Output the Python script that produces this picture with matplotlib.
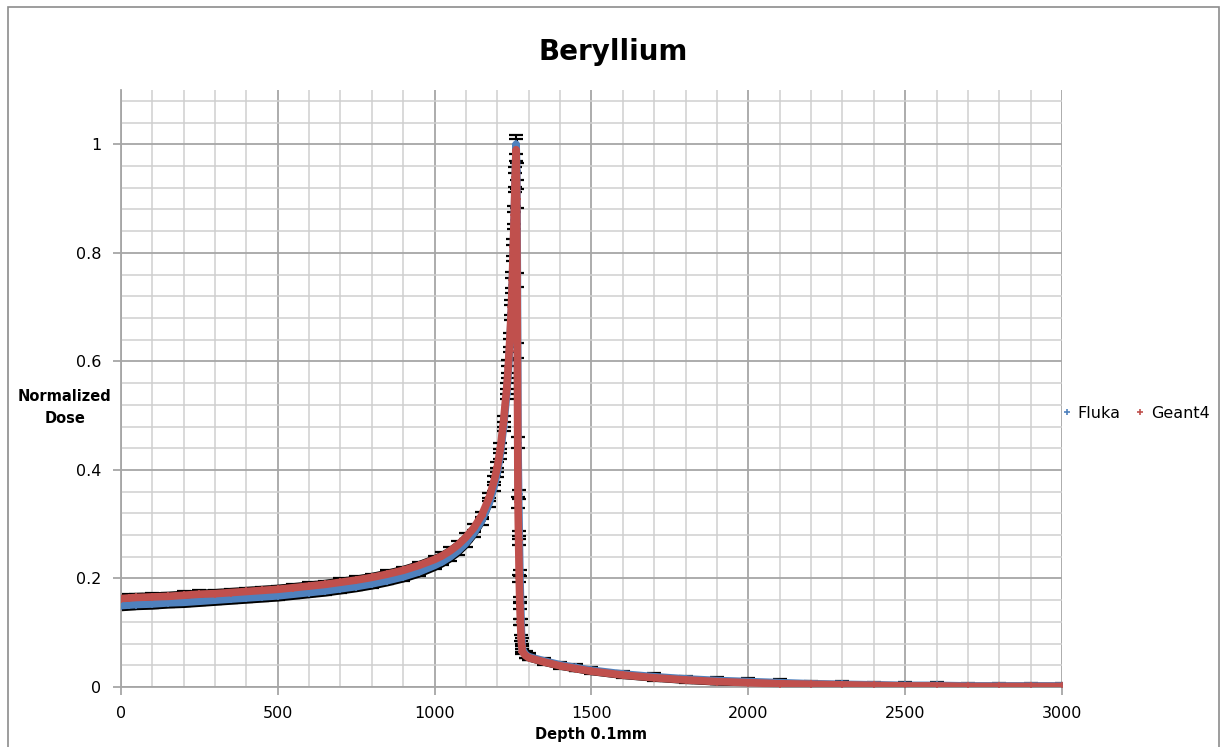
import numpy as np
import matplotlib.pyplot as plt
from matplotlib.patches import Rectangle
from matplotlib.ticker import MultipleLocator

# =========================
# DATA
# =========================
depth = [0, 25, 50, 100, 150, 200, 250, 300, 350, 400, 450, 500, 550, 600,
         650, 700, 750, 800, 850, 900, 950, 1000, 1025, 1050, 1075, 1100,
         1125, 1150, 1175, 1190, 1200, 1210, 1220, 1230, 1235, 1240, 1245,
         1248, 1251, 1254, 1257, 1260, 1262, 1264, 1266, 1268, 1270, 1272,
         1274, 1276, 1278, 1280, 1290, 1300, 1350, 1400, 1450, 1500, 1600,
         1700, 1800, 1900, 2000, 2100, 2200, 2300, 2400, 2500, 2600, 2700,
         2800, 2900, 3000]

geant4 = [0.163, 0.164, 0.165, 0.166, 0.167, 0.169, 0.171, 0.172, 0.174,
          0.176, 0.178, 0.180, 0.183, 0.186, 0.189, 0.193, 0.197, 0.202,
          0.208, 0.215, 0.224, 0.235, 0.242, 0.251, 0.262, 0.276, 0.293,
          0.316, 0.350, 0.380, 0.405, 0.440, 0.490, 0.550, 0.590, 0.640,
          0.700, 0.750, 0.810, 0.870, 0.940, 0.990, 0.900, 0.620, 0.340,
          0.270, 0.200, 0.150, 0.120, 0.090, 0.075, 0.065, 0.058, 0.054,
          0.046, 0.039, 0.034, 0.029, 0.022, 0.017, 0.013, 0.010, 0.008,
          0.006, 0.005, 0.004, 0.003, 0.002, 0.002, 0.001, 0.001, 0.001,
          0.001]

fluka = [0.150, 0.151, 0.152, 0.153, 0.155, 0.156, 0.158, 0.160, 0.162,
         0.164, 0.166, 0.168, 0.171, 0.174, 0.177, 0.181, 0.185, 0.190,
         0.196, 0.203, 0.212, 0.224, 0.231, 0.240, 0.251, 0.265, 0.283,
         0.306, 0.340, 0.370, 0.395, 0.430, 0.480, 0.540, 0.580, 0.630,
         0.690, 0.740, 0.800, 0.860, 0.930, 1.000, 0.950, 0.750, 0.450,
         0.355, 0.280, 0.210, 0.160, 0.120, 0.085, 0.070, 0.060, 0.056,
         0.048, 0.041, 0.036, 0.031, 0.024, 0.019, 0.015, 0.012, 0.010,
         0.008, 0.006, 0.005, 0.004, 0.003, 0.003, 0.002, 0.002, 0.002,
         0.002]

# rough error bar sizes (black caps)
g4_err = [0.007] * 28 + [0.008, 0.008, 0.009, 0.009, 0.010, 0.011, 0.012,
          0.013, 0.014, 0.015, 0.016, 0.017, 0.018, 0.020, 0.018, 0.014,
          0.010, 0.008, 0.007, 0.006, 0.005, 0.005, 0.005, 0.005] + [0.005] * 21
fl_err = [0.007] * 28 + [0.008, 0.008, 0.008, 0.009, 0.009, 0.010, 0.011,
          0.012, 0.013, 0.014, 0.015, 0.016, 0.017, 0.018, 0.016, 0.013,
          0.010, 0.008, 0.007, 0.006, 0.005, 0.005, 0.006, 0.006] + [0.006] * 21

BLUE = '#4f81bd'
RED = '#c0504d'

# =========================
# FIGURE
# =========================
fig = plt.figure(figsize=(12.2, 7.47), dpi=100)
ax = fig.add_axes([0.099, 0.0803, 0.7715, 0.7992])

# outer chart frame
fig.patches.append(Rectangle((0.0066, -0.01), 0.9926, 1.0006,
                             transform=fig.transFigure, fill=False,
                             edgecolor='#8c8c8c', lw=1.2))

# black error band + bars
lo = np.array(fluka) - np.array(fl_err)
hi = np.array(geant4) + np.array(g4_err)
ax.fill_between(depth, np.minimum(lo, hi), np.maximum(lo, hi),
                color='black', lw=2, edgecolor='black', zorder=2)
ax.errorbar(depth, fluka, yerr=fl_err, fmt='none', ecolor='black',
            elinewidth=1.5, capsize=5, capthick=1.6, zorder=2)
ax.errorbar(depth, geant4, yerr=g4_err, fmt='none', ecolor='black',
            elinewidth=1.5, capsize=5, capthick=1.6, zorder=2)

# series
ax.plot(depth, fluka, color=BLUE, lw=5.5, zorder=3)
ax.plot(depth, fluka, ls='none', marker='+', ms=6, mew=1.2, color=BLUE, zorder=3)
ax.plot(depth, geant4, color=RED, lw=5.5, zorder=4)
ax.plot(depth, geant4, ls='none', marker='+', ms=6, mew=1.2, color=RED, zorder=4)

# axes / grid
ax.set_xlim(0, 3000)
ax.set_ylim(0, 1.1)
ax.xaxis.set_major_locator(MultipleLocator(500))
ax.xaxis.set_minor_locator(MultipleLocator(100))
ax.yaxis.set_major_locator(MultipleLocator(0.2))
ax.yaxis.set_minor_locator(MultipleLocator(0.04))
ax.grid(which='major', color='#a6a6a6', lw=1.3, zorder=0)
ax.grid(which='minor', color='#cfcfcf', lw=1.1, zorder=0)
ax.set_axisbelow(True)

for s in ['top', 'right']:
    ax.spines[s].set_visible(False)
for s in ['left', 'bottom']:
    ax.spines[s].set_color('#a6a6a6')
    ax.spines[s].set_linewidth(1.3)

ax.tick_params(which='major', direction='out', length=6, color='#a6a6a6',
               width=1.3, labelsize=11.5, pad=8)
ax.tick_params(which='minor', length=0)
ax.set_yticks([0, 0.2, 0.4, 0.6, 0.8, 1.0])
ax.set_yticklabels(['0', '0.2', '0.4', '0.6', '0.8', '1'])

fig.text(0.503, 0.930, 'Beryllium', ha='center', va='center',
         fontsize=20, fontweight='bold')
ax.set_xlabel('Depth 0.1mm', fontsize=10.5, fontweight='bold', labelpad=4)
fig.text(0.053, 0.455, 'Normalized\nDose', ha='center', va='center',
         fontsize=10.5, fontweight='bold', linespacing=1.6)

# legend
h1, = ax.plot([], [], ls='none', marker='+', ms=5, mew=1.2, color=BLUE)
h2, = ax.plot([], [], ls='none', marker='+', ms=5, mew=1.2, color=RED)
fig.legend([h1, h2], ['Fluka', 'Geant4'], loc='center left',
           bbox_to_anchor=(0.866, 0.447), ncol=2, frameon=False,
           fontsize=11.5, handlelength=0.5, handletextpad=0.4,
           columnspacing=1.0, borderaxespad=0.0)

plt.savefig('out.png', dpi=100)
